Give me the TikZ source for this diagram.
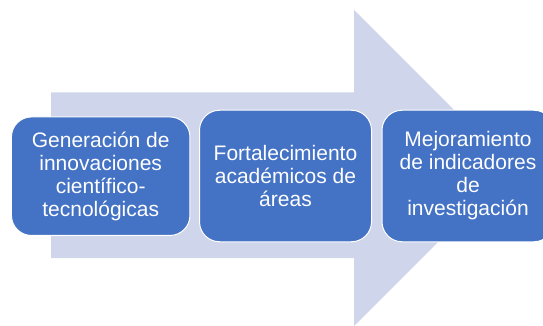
\documentclass[tikz,border=0pt]{standalone}
\usepackage{fontspec}
\setmainfont{Liberation Sans}
\definecolor{arrowfill}{HTML}{CFD5EA}
\definecolor{boxfill}{HTML}{4472C4}
\begin{document}
\begin{tikzpicture}[x=1pt,y=-1pt,
  stepbox/.style={draw=white, line width=1pt, fill=boxfill, rounded corners=20pt,
    text=white, align=center, inner sep=0pt,
    font=\fontsize{21}{23}\selectfont},
  bigarrow/.style={fill=arrowfill, draw=none}]
\useasboundingbox (0,0) rectangle (543,326);
\begin{scope}
\clip (0,0) rectangle (543,326);
\fill[bigarrow] (51,92.5) -- (354,92.5) -- (354,10) -- (512,168) -- (354,326) -- (354,258) -- (51,258) -- cycle;
\node[stepbox, minimum width=178.5pt, minimum height=118.5pt] (b1) at (100.7,176.2)
  {Generación de\\innovaciones\\científico-\\tecnológicas};
\node[stepbox, minimum width=172pt, minimum height=131.5pt] (b2) at (285.5,176)
  {Fortalecimiento\\académicos de\\áreas};
\node[stepbox, minimum width=172pt, minimum height=131.5pt] (b3) at (468,176)
  {Mejoramiento\\de indicadores\\de\\investigación};
\end{scope}
\end{tikzpicture}
\end{document}
